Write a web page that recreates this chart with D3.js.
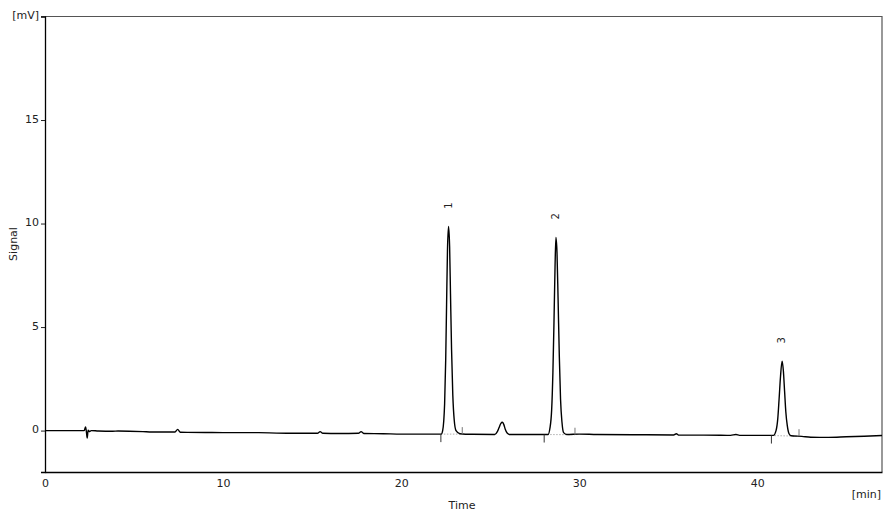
<!DOCTYPE html>
<html><head><meta charset="utf-8">
<script src="https://cdn.jsdelivr.net/npm/d3@7"></script>
<style>
html,body{margin:0;padding:0;background:#fff;}
svg text{font-family:"DejaVu Sans",Verdana,sans-serif;fill:#222;}
</style></head>
<body><svg id="chart" width="896" height="517"></svg>
<script>
// ---- data ----
const traceTime = [0,1.0,2.2,2.28,2.33,2.37,2.42,2.48,2.6,3.0,3.8,4.1,5.5,6.0,7.3,7.45,7.6,9.0,10.0,12.0,13.0,14.0,15.3,15.45,15.6,16.5,17.6,17.75,17.9,19.0,20.0,21.5,
  22.25,22.33,22.44,22.50,22.55,22.60,22.66,22.72,22.77,22.83,22.90,22.98,23.08,23.3,24.0,
  25.25,25.40,25.50,25.60,25.68,25.76,25.85,25.95,26.1,27.0,28.0,
  28.25,28.35,28.45,28.52,28.58,28.64,28.69,28.75,28.81,28.88,28.95,29.03,29.12,29.3,30.0,31.0,33.0,35.3,35.45,35.6,37.0,38.5,38.8,39.0,40.5,40.9,
  41.05,41.15,41.22,41.30,41.39,41.46,41.53,41.60,41.68,41.78,41.9,42.5,43.0,44.0,45.0,46.0,47.0];
const traceSignal = [0.00,0.00,0.00,0.18,-0.10,-0.36,0.02,-0.05,0.00,-0.02,-0.03,-0.02,-0.05,-0.07,-0.07,0.06,-0.08,-0.09,-0.10,-0.10,-0.12,-0.13,-0.13,-0.05,-0.13,-0.14,-0.13,-0.05,-0.14,-0.15,-0.17,-0.17,
  -0.17,0.00,1.30,3.40,6.10,8.70,9.86,8.90,6.60,3.90,1.70,0.50,0.00,-0.15,-0.18,
  -0.19,-0.05,0.15,0.35,0.40,0.30,0.05,-0.12,-0.19,-0.19,-0.19,
  -0.19,0.10,1.00,2.80,5.20,7.90,9.33,8.60,6.40,3.60,1.50,0.40,-0.10,-0.19,-0.17,-0.19,-0.20,-0.21,-0.15,-0.22,-0.22,-0.23,-0.19,-0.23,-0.23,-0.23,
  0.00,0.60,1.50,2.60,3.35,2.90,1.90,0.90,0.25,-0.15,-0.25,-0.28,-0.32,-0.33,-0.30,-0.27,-0.24];

const peakLabels = ["1","2","3"];
const peakTimes = [22.66, 28.69, 41.39];
const peakHeights = [9.86, 9.33, 3.35];
const intStart = [22.23, 28.03, 40.79];
const intEnd = [23.43, 29.76, 42.34];
const intStartLevel = [-0.17, -0.19, -0.24];
const intEndLevel = [-0.17, -0.20, -0.27];

const xTicks = [0,10,20,30,40];
const yTicks = [0,5,10,15];
const xDomain = [0,47];
const yDomain = [-2,20];

// ---- drawing ----
const svg = d3.select("#chart");
const L=45, R=882, T=16.5, B=472;
const x = d3.scaleLinear().domain(xDomain).range([L,R]);
const y = d3.scaleLinear().domain(yDomain).range([B,T]);

// frame top/right
svg.append("path").attr("d",`M${L},${T}H${R}V${B}`).attr("fill","none").attr("stroke","#555").attr("stroke-width",1.2);

// axes
const xAxis = d3.axisBottom(x).tickValues(xTicks).tickSize(0).tickPadding(7).tickFormat(d3.format("d"));
const gx = svg.append("g").attr("transform",`translate(0,${B})`).call(xAxis);
gx.select(".domain").attr("stroke","#000").attr("stroke-width",1.3);
gx.selectAll("text").attr("font-size","11px").attr("fill","#222").attr("font-family","DejaVu Sans").attr("dy","0.75em");

const yAxis = d3.axisLeft(y).tickValues(yTicks).tickSize(4).tickPadding(2).tickFormat(d3.format("d"));
const gy = svg.append("g").attr("transform",`translate(${L},0)`).call(yAxis);
gy.select(".domain").attr("stroke","#000").attr("stroke-width",1.3);
gy.selectAll("line").attr("stroke","#222");
gy.selectAll("text").attr("font-size","11px").attr("fill","#222").attr("font-family","DejaVu Sans").attr("dy","0.2em");

// unit labels
svg.append("line").attr("x1",L-4).attr("x2",L).attr("y1",y(20)).attr("y2",y(20)).attr("stroke","#222");
svg.append("text").attr("x",L-6).attr("y",y(20)).attr("dy","0.2em").attr("text-anchor","end").attr("font-size","11px").text("[mV]");
svg.append("text").attr("x",R-1).attr("y",498).attr("text-anchor","end").attr("font-size","11px").text("[min]");
svg.append("text").attr("x",462).attr("y",509).attr("text-anchor","middle").attr("font-size","11px").text("Time");
svg.append("text").attr("transform",`translate(17,244) rotate(-90)`).attr("text-anchor","middle").attr("font-size","11px").text("Signal");

// integration baselines (dotted)
const idx = d3.range(peakLabels.length);
svg.append("g").selectAll("line").data(idx).join("line")
  .attr("x1",i=>x(intStart[i])).attr("x2",i=>x(intEnd[i]))
  .attr("y1",i=>y(intStartLevel[i])).attr("y2",i=>y(intEndLevel[i]))
  .attr("stroke","#999").attr("stroke-width",0.8).attr("stroke-dasharray","1.5,1.5");

// trace
const pts = traceTime.map((t,i)=>[t,traceSignal[i]]);
svg.append("path").datum(pts)
  .attr("d",d3.line().x(d=>x(d[0])).y(d=>y(d[1])).curve(d3.curveMonotoneX))
  .attr("fill","none").attr("stroke","#000").attr("stroke-width",1.4).attr("stroke-linejoin","round");

// integration markers
svg.append("g").selectAll("line").data(idx).join("line")
  .attr("x1",i=>x(intStart[i])).attr("x2",i=>x(intStart[i]))
  .attr("y1",i=>y(intStartLevel[i])).attr("y2",i=>y(intStartLevel[i])+8)
  .attr("stroke","#333").attr("stroke-width",1);
svg.append("g").selectAll("line").data(idx).join("line")
  .attr("x1",i=>x(intEnd[i])).attr("x2",i=>x(intEnd[i]))
  .attr("y1",i=>y(intEndLevel[i])).attr("y2",i=>y(intEndLevel[i])-7)
  .attr("stroke","#777").attr("stroke-width",1);

// peak labels
svg.append("g").selectAll("text").data(idx).join("text")
  .attr("transform",i=>`translate(${x(peakTimes[i])+3},${y(peakHeights[i])-21}) rotate(-90)`)
  .attr("text-anchor","middle").attr("font-size","10px").text(i=>peakLabels[i]);
</script></body></html>
